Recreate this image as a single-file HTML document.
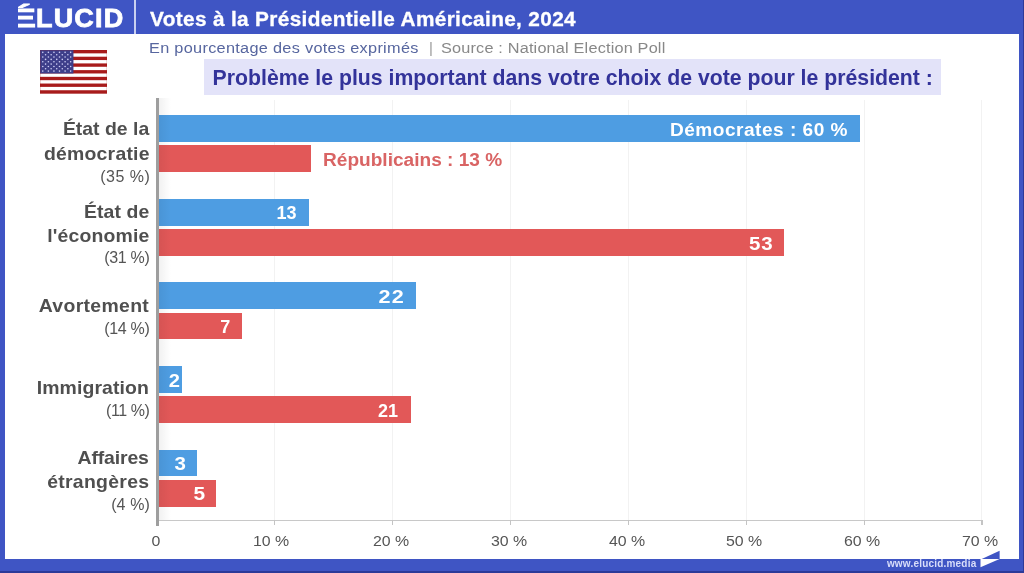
<!DOCTYPE html>
<html lang="fr">
<head>
<meta charset="utf-8">
<title>Votes à la Présidentielle Américaine, 2024</title>
<style>
html,body{margin:0;padding:0;}
body{width:1024px;height:573px;overflow:hidden;background:#3f55c4;font-family:"Liberation Sans",sans-serif;}
#page{position:relative;width:1024px;height:573px;overflow:hidden;background:#3f55c4;}
#panel{position:absolute;left:5px;top:34.3px;width:1014.1px;height:524.6px;background:#fff;}
#botdark{position:absolute;left:0;top:571.3px;width:1024px;height:1.7px;background:#2c3a98;}
#rightdark{position:absolute;left:1023px;top:0;width:1px;height:573px;background:#2c3a98;}
#hdiv{position:absolute;left:134.3px;top:0;width:1.8px;height:34.3px;background:#c9d0f0;}
.t{position:absolute;white-space:nowrap;line-height:1;margin:0;padding:0;}
.b{font-weight:bold;}
.w{color:#fff;}
.lg{-webkit-text-stroke:0.8px #fff;}
#qbox{position:absolute;left:203.7px;top:59.3px;width:737.5px;height:35.4px;background:#e3e3f9;}
.grid{position:absolute;top:100px;width:1px;height:420px;background:#f2f2f2;}
.tick{position:absolute;top:520px;width:1.2px;height:4.6px;background:#c4c4c4;}
#yaxis{position:absolute;left:156px;top:98px;width:2.8px;height:427.5px;background:#9e9e9e;}
#xaxis{position:absolute;left:157px;top:519.6px;width:825.8px;height:1.5px;background:#c8c8c8;}
#shade{position:absolute;left:158.8px;top:98px;width:12px;height:422px;background:linear-gradient(to right,rgba(0,0,0,0.055),rgba(0,0,0,0));}
.bar{position:absolute;left:158px;height:26.8px;}
.bl{background:#4e9de2;}
.rd{background:#e25858;}
.cat{color:#4f4f4f;font-weight:bold;font-size:18.5px;transform-origin:100% 50%;transform:scaleX(1.05);}
.pct{color:#555;font-size:16px;}
.val{color:#fff;font-weight:bold;font-size:18px;}
.ax{color:#555;font-size:15px;transform-origin:100% 50%;transform:scaleX(1.06);}
</style>
</head>
<body>
<div id="page">
  <div id="panel"></div>
  <div id="botdark"></div>
  <div id="rightdark"></div>
  <div id="hdiv"></div>

  <!-- logo -->
  <div id="logoEclip" style="position:absolute;left:18.3px;top:0;width:17.3px;height:34px;overflow:hidden;">
    <div class="t b w lg" id="logoE" style="left:-10px;top:5.3px;font-size:26px;transform-origin:0 0;transform:scaleX(1.62);">É</div>
  </div>
  <div class="t b w lg" id="logo" style="left:35.5px;top:5.3px;font-size:26px;letter-spacing:1.1px;transform-origin:0 0;transform:scaleX(1.04);">LUCID</div>

  <!-- title -->
  <div class="t b w" id="title" style="left:149.6px;top:9px;font-size:20px;letter-spacing:0.33px;-webkit-text-stroke:0.3px #fff;transform-origin:0 50%;transform:scaleX(1.04);">Votes à la Présidentielle Américaine, 2024</div>

  <!-- subtitle -->
  <div class="t" id="sub1" style="left:148.8px;top:40.4px;font-size:15.5px;letter-spacing:0.29px;transform-origin:0 50%;transform:scaleX(1.05);color:#57669f;">En pourcentage des votes exprimés</div>
  <div class="t" id="sub2" style="left:429px;top:40.4px;font-size:15px;color:#9a9a9a;">|</div>
  <div class="t" id="sub3" style="left:440.8px;top:40.4px;font-size:15.5px;letter-spacing:0.17px;transform-origin:0 50%;transform:scaleX(1.05);color:#888;">Source : National Election Poll</div>

  <!-- flag -->
  <svg id="flag" style="position:absolute;left:40.1px;top:50px;" width="67.1" height="43.6" viewBox="0 0 67 43.3" preserveAspectRatio="none">
    <rect width="67" height="43.3" fill="#fff"/>
    <rect x="0" y="0.00" width="67" height="3.33" fill="#a81b1b"/>
    <rect x="0" y="6.66" width="67" height="3.33" fill="#a81b1b"/>
    <rect x="0" y="13.32" width="67" height="3.33" fill="#a81b1b"/>
    <rect x="0" y="19.98" width="67" height="3.33" fill="#a81b1b"/>
    <rect x="0" y="26.65" width="67" height="3.33" fill="#a81b1b"/>
    <rect x="0" y="33.31" width="67" height="3.33" fill="#a81b1b"/>
    <rect x="0" y="39.97" width="67" height="3.33" fill="#a81b1b"/>
    <rect x="0" y="0" width="33.4" height="23.32" fill="#3e3e8a"/>
    <circle cx="2.78" cy="2.33" r="0.8" fill="#cfcff5"/>
    <circle cx="8.35" cy="2.33" r="0.8" fill="#cfcff5"/>
    <circle cx="13.92" cy="2.33" r="0.8" fill="#cfcff5"/>
    <circle cx="19.48" cy="2.33" r="0.8" fill="#cfcff5"/>
    <circle cx="25.05" cy="2.33" r="0.8" fill="#cfcff5"/>
    <circle cx="30.62" cy="2.33" r="0.8" fill="#cfcff5"/>
    <circle cx="5.57" cy="4.66" r="0.8" fill="#cfcff5"/>
    <circle cx="11.13" cy="4.66" r="0.8" fill="#cfcff5"/>
    <circle cx="16.70" cy="4.66" r="0.8" fill="#cfcff5"/>
    <circle cx="22.27" cy="4.66" r="0.8" fill="#cfcff5"/>
    <circle cx="27.83" cy="4.66" r="0.8" fill="#cfcff5"/>
    <circle cx="2.78" cy="6.99" r="0.8" fill="#cfcff5"/>
    <circle cx="8.35" cy="6.99" r="0.8" fill="#cfcff5"/>
    <circle cx="13.92" cy="6.99" r="0.8" fill="#cfcff5"/>
    <circle cx="19.48" cy="6.99" r="0.8" fill="#cfcff5"/>
    <circle cx="25.05" cy="6.99" r="0.8" fill="#cfcff5"/>
    <circle cx="30.62" cy="6.99" r="0.8" fill="#cfcff5"/>
    <circle cx="5.57" cy="9.33" r="0.8" fill="#cfcff5"/>
    <circle cx="11.13" cy="9.33" r="0.8" fill="#cfcff5"/>
    <circle cx="16.70" cy="9.33" r="0.8" fill="#cfcff5"/>
    <circle cx="22.27" cy="9.33" r="0.8" fill="#cfcff5"/>
    <circle cx="27.83" cy="9.33" r="0.8" fill="#cfcff5"/>
    <circle cx="2.78" cy="11.66" r="0.8" fill="#cfcff5"/>
    <circle cx="8.35" cy="11.66" r="0.8" fill="#cfcff5"/>
    <circle cx="13.92" cy="11.66" r="0.8" fill="#cfcff5"/>
    <circle cx="19.48" cy="11.66" r="0.8" fill="#cfcff5"/>
    <circle cx="25.05" cy="11.66" r="0.8" fill="#cfcff5"/>
    <circle cx="30.62" cy="11.66" r="0.8" fill="#cfcff5"/>
    <circle cx="5.57" cy="13.99" r="0.8" fill="#cfcff5"/>
    <circle cx="11.13" cy="13.99" r="0.8" fill="#cfcff5"/>
    <circle cx="16.70" cy="13.99" r="0.8" fill="#cfcff5"/>
    <circle cx="22.27" cy="13.99" r="0.8" fill="#cfcff5"/>
    <circle cx="27.83" cy="13.99" r="0.8" fill="#cfcff5"/>
    <circle cx="2.78" cy="16.32" r="0.8" fill="#cfcff5"/>
    <circle cx="8.35" cy="16.32" r="0.8" fill="#cfcff5"/>
    <circle cx="13.92" cy="16.32" r="0.8" fill="#cfcff5"/>
    <circle cx="19.48" cy="16.32" r="0.8" fill="#cfcff5"/>
    <circle cx="25.05" cy="16.32" r="0.8" fill="#cfcff5"/>
    <circle cx="30.62" cy="16.32" r="0.8" fill="#cfcff5"/>
    <circle cx="5.57" cy="18.65" r="0.8" fill="#cfcff5"/>
    <circle cx="11.13" cy="18.65" r="0.8" fill="#cfcff5"/>
    <circle cx="16.70" cy="18.65" r="0.8" fill="#cfcff5"/>
    <circle cx="22.27" cy="18.65" r="0.8" fill="#cfcff5"/>
    <circle cx="27.83" cy="18.65" r="0.8" fill="#cfcff5"/>
    <circle cx="2.78" cy="20.98" r="0.8" fill="#cfcff5"/>
    <circle cx="8.35" cy="20.98" r="0.8" fill="#cfcff5"/>
    <circle cx="13.92" cy="20.98" r="0.8" fill="#cfcff5"/>
    <circle cx="19.48" cy="20.98" r="0.8" fill="#cfcff5"/>
    <circle cx="25.05" cy="20.98" r="0.8" fill="#cfcff5"/>
    <circle cx="30.62" cy="20.98" r="0.8" fill="#cfcff5"/>
    <rect x="0.2" y="0.2" width="66.6" height="42.9" fill="none" stroke="#a02020" stroke-opacity="0.45" stroke-width="0.5"/>
  </svg>

  <!-- question box -->
  <div id="qbox"></div>
  <div class="t b" id="q" style="left:212.6px;top:68.1px;font-size:21.25px;color:#33339a;">Problème le plus important dans votre choix de vote pour le président :</div>

  <!-- chart -->
  <div class="grid" style="left:274.35px"></div>
  <div class="grid" style="left:392.20px"></div>
  <div class="grid" style="left:510.05px"></div>
  <div class="grid" style="left:627.90px"></div>
  <div class="grid" style="left:745.75px"></div>
  <div class="grid" style="left:863.60px"></div>
  <div class="grid" style="left:981.45px"></div>
  <div id="xaxis"></div>
  <div class="tick" style="left:274.25px"></div>
  <div class="tick" style="left:392.10px"></div>
  <div class="tick" style="left:509.95px"></div>
  <div class="tick" style="left:627.80px"></div>
  <div class="tick" style="left:745.65px"></div>
  <div class="tick" style="left:863.50px"></div>
  <div class="tick" style="left:981.35px"></div>
  <div class="bar bl" style="top:115.10px;width:702.2px"></div>
  <div class="bar rd" style="top:145.40px;width:152.9px"></div>
  <div class="bar bl" style="top:198.75px;width:151.1px"></div>
  <div class="bar rd" style="top:228.98px;width:626.3px"></div>
  <div class="bar bl" style="top:282.40px;width:258.0px"></div>
  <div class="bar rd" style="top:312.56px;width:84.3px"></div>
  <div class="bar bl" style="top:366.05px;width:23.6px"></div>
  <div class="bar rd" style="top:396.14px;width:252.5px"></div>
  <div class="bar bl" style="top:449.70px;width:39.1px"></div>
  <div class="bar rd" style="top:479.72px;width:58.0px"></div>
  <div id="shade"></div>
  <div id="yaxis"></div>

  <div class="t cat" style="top:120.14px;letter-spacing:0.0px;right:874.80px">État de la</div>
  <div class="t cat" style="top:144.54px;letter-spacing:0.2px;right:874.59px">démocratie</div>
  <div class="t cat" style="top:202.54px;letter-spacing:0.1px;right:874.69px">État de</div>
  <div class="t cat" style="top:226.84px;letter-spacing:0.16px;right:874.63px">l'économie</div>
  <div class="t cat" style="top:297.14px;letter-spacing:0.3px;right:874.48px">Avortement</div>
  <div class="t cat" style="top:379.34px;letter-spacing:0.1px;right:874.69px">Immigration</div>
  <div class="t cat" style="top:449.04px;letter-spacing:-0.15px;right:874.96px">Affaires</div>
  <div class="t cat" style="top:472.64px;letter-spacing:0.27px;right:874.52px">étrangères</div>
  <div class="t pct" style="top:168.86px;letter-spacing:0.5px;right:873.70px">(35 %)</div>
  <div class="t pct" style="top:250.46px;letter-spacing:-0.3px;right:874.50px">(31 %)</div>
  <div class="t pct" style="top:320.56px;letter-spacing:-0.3px;right:874.50px">(14 %)</div>
  <div class="t pct" style="top:402.86px;letter-spacing:-0.45px;right:874.65px">(11 %)</div>
  <div class="t pct" style="top:497.36px;letter-spacing:0.1px;right:874.10px">(4 %)</div>

  <div class="t val" style="right:176.3px;top:120.96px;letter-spacing:0.47px;transform-origin:100% 50%;transform:scaleX(1.06)">Démocrates : 60 %</div>
  <div class="t val" style="right:727.4px;top:204.46px">13</div>
  <div class="t val" style="right:250.8px;top:234.66px;letter-spacing:0.8px;transform-origin:100% 50%;transform:scaleX(1.14)">53</div>
  <div class="t val" style="right:619.1px;top:288.16px;letter-spacing:1.0px;transform-origin:100% 50%;transform:scaleX(1.2)">22</div>
  <div class="t val" style="right:793.7px;top:317.76px">7</div>
  <div class="t val" style="right:843.5px;top:371.76px;transform-origin:100% 50%;transform:scaleX(1.12)">2</div>
  <div class="t val" style="right:626.1px;top:401.86px">21</div>
  <div class="t val" style="right:838.4px;top:455.06px;transform-origin:100% 50%;transform:scaleX(1.14)">3</div>
  <div class="t val" style="right:819.0px;top:485.26px;transform-origin:100% 50%;transform:scaleX(1.16)">5</div>
  <div class="t val" style="left:323px;top:150.86px;transform-origin:0 50%;transform:scaleX(1.06);color:#d96464">Républicains : 13 %</div>

  <div class="t ax" style="right:863.5px;top:532.9px">0</div>
  <div class="t ax" style="right:734.8px;top:532.9px">10 %</div>
  <div class="t ax" style="right:615.2px;top:532.9px">20 %</div>
  <div class="t ax" style="right:497.3px;top:532.9px">30 %</div>
  <div class="t ax" style="right:379.3px;top:532.9px">40 %</div>
  <div class="t ax" style="right:261.7px;top:532.9px">50 %</div>
  <div class="t ax" style="right:143.5px;top:532.9px">60 %</div>
  <div class="t ax" style="right:25.9px;top:532.9px">70 %</div>

  <!-- footer -->
  <div class="t b" id="www" style="left:886.9px;top:559.3px;font-size:10px;letter-spacing:0.2px;color:#d9defa;">www.elucid.media</div>
  <svg id="plane" style="position:absolute;left:978px;top:548px;" width="24" height="22" viewBox="978 548 24 22">
    <polygon points="981.7,558.9 999.6,550.8 999.6,558.9" fill="#3f55c4"/>
    <polygon points="980.5,558.9 999.6,558.9 980.5,567.2" fill="#fff"/>
  </svg>
</div>
</body>
</html>
